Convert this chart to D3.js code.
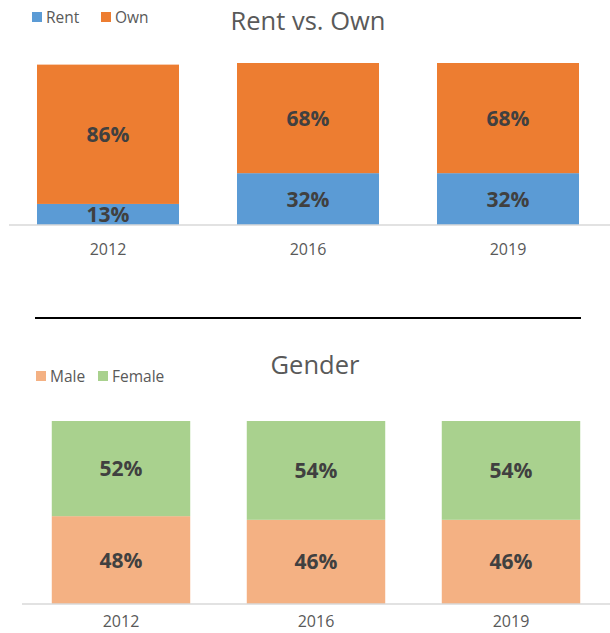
<!DOCTYPE html>
<html>
<head>
<meta charset="utf-8">
<script src="https://cdn.jsdelivr.net/npm/d3@7"></script>
<style>
  body { margin: 0; background: #fff; }
  svg { display: block; font-family: "Open Sans", sans-serif; }
</style>
</head>
<body>
<svg width="610" height="633"></svg>
<script>
const years = ['2012', '2016', '2019'];

const rentValues = [13, 32, 32];
const ownValues = [86, 68, 68];

const maleValues = [48, 46, 46];
const femaleValues = [52, 54, 54];

const svg = d3.select('svg');

function makeStackedChart(opts) {
    const data = years.map((y, i) => ({
        year: y,
        [opts.keys[0]]: opts.values[0][i],
        [opts.keys[1]]: opts.values[1][i]
    }));

    const stack = d3.stack().keys(opts.keys)(data);

    const xScale = d3.scaleBand()
        .domain(years)
        .range(opts.xRange)
        .paddingInner(0.29)
        .paddingOuter(0.145);

    const yScale = d3.scaleLinear()
        .domain([0, 100])
        .range([opts.baseY, opts.topY]);

    const g = svg.append('g');

    // bars
    stack.forEach((layer, li) => {
        g.append('g')
            .selectAll('rect')
            .data(layer)
            .join('rect')
            .attr('x', d => xScale(d.data.year))
            .attr('y', d => yScale(d[1]))
            .attr('width', xScale.bandwidth())
            .attr('height', d => yScale(d[0]) - yScale(d[1]))
            .attr('fill', opts.colors[li]);

        g.append('g')
            .selectAll('text')
            .data(layer)
            .join('text')
            .attr('x', d => xScale(d.data.year) + xScale.bandwidth() / 2)
            .attr('y', d => (yScale(d[0]) + yScale(d[1])) / 2)
            .attr('dy', '0.36em')
            .attr('text-anchor', 'middle')
            .attr('font-size', 21)
            .attr('font-weight', 'bold')
            .attr('fill', '#404040')
            .text(d => (d[1] - d[0]) + '%');
    });

    // x axis
    const xAxis = d3.axisBottom(xScale).tickSize(0).tickPadding(opts.tickPad);
    const xAxisG = g.append('g')
        .attr('transform', `translate(0,${opts.baseY})`)
        .call(xAxis);
    xAxisG.select('.domain').remove();
    xAxisG.append('line')
        .attr('x1', opts.axisX[0])
        .attr('x2', opts.axisX[1])
        .attr('stroke', '#d9d9d9')
        .attr('stroke-width', 1.5);
    xAxisG.selectAll('.tick text')
        .attr('font-size', 16)
        .attr('font-family', '"Open Sans", sans-serif')
        .attr('fill', '#595959');

    // title
    g.append('text')
        .attr('x', opts.titleX)
        .attr('y', opts.titleY)
        .attr('text-anchor', 'middle')
        .attr('font-size', 25.5)
        .attr('fill', '#595959')
        .text(opts.title);

    // legend
    const legend = g.append('g');
    opts.keys.forEach((k, i) => {
        const lx = opts.legendX[i];
        legend.append('rect')
            .attr('x', lx)
            .attr('y', opts.legendY - 11)
            .attr('width', 10)
            .attr('height', 10)
            .attr('fill', opts.colors[i]);
        legend.append('text')
            .attr('x', lx + 14)
            .attr('y', opts.legendY)
            .attr('font-size', 15.5)
            .attr('fill', '#595959')
            .text(k);
    });
}

makeStackedChart({
    keys: ['Rent', 'Own'],
    values: [rentValues, ownValues],
    colors: ['#5B9BD5', '#ED7D31'],
    xRange: [8, 608],
    baseY: 225,
    topY: 63,
    axisX: [9, 610],
    tickPad: 19,
    title: 'Rent vs. Own',
    titleX: 308,
    titleY: 30,
    legendX: [32, 101],
    legendY: 23
});

// divider line
svg.append('line')
    .attr('x1', 35)
    .attr('x2', 581)
    .attr('y1', 318)
    .attr('y2', 318)
    .attr('stroke', '#000')
    .attr('stroke-width', 2);

makeStackedChart({
    keys: ['Male', 'Female'],
    values: [maleValues, femaleValues],
    colors: ['#F4B183', '#A9D18E'],
    xRange: [23.5, 608.5],
    baseY: 604,
    topY: 421,
    axisX: [22, 610],
    tickPad: 12,
    title: 'Gender',
    titleX: 315,
    titleY: 374,
    legendX: [36, 98],
    legendY: 382
});
</script>
</body>
</html>
